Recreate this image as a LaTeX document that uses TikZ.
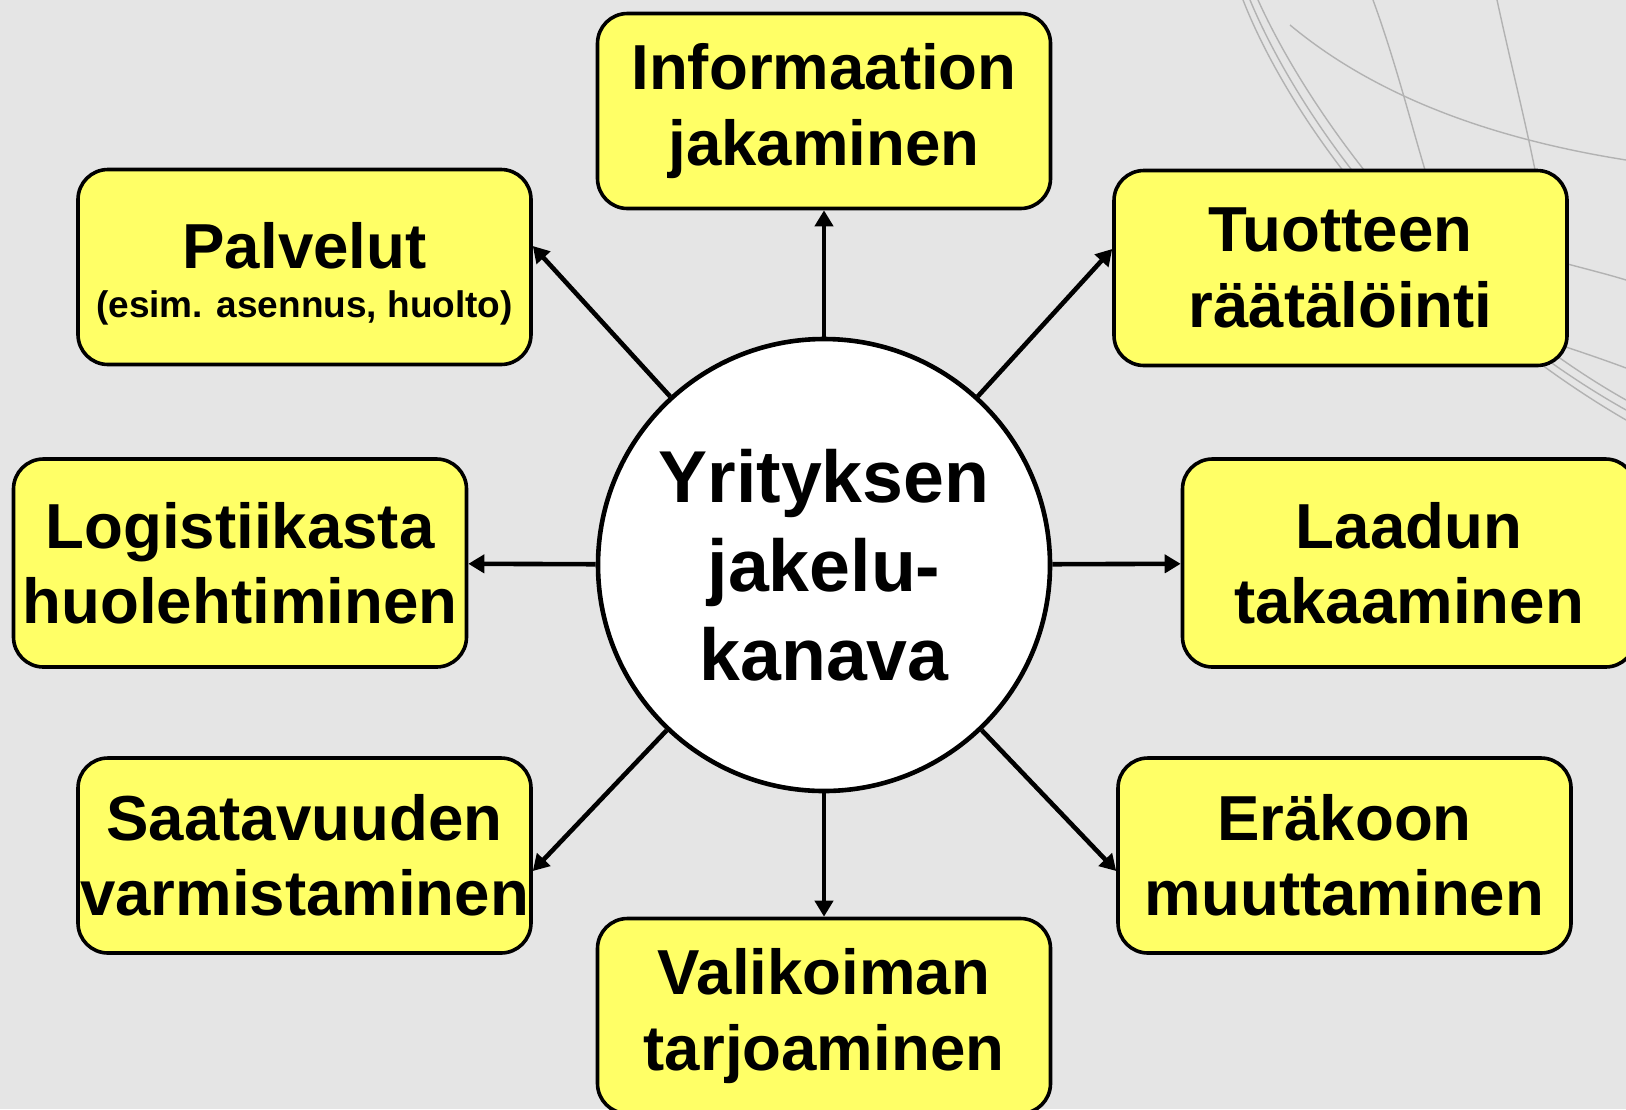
\documentclass[tikz,border=0pt]{standalone}
\usepackage{fontspec}
\setmainfont{Liberation Sans}
\usetikzlibrary{arrows.meta}
\definecolor{bgray}{HTML}{E5E5E5}
\definecolor{boxyellow}{HTML}{FFFF66}
\begin{document}
\begin{tikzpicture}[x=0.5pt,y=-0.5pt,
 box/.style={draw=black, line width=1.8pt, fill=boxyellow, rounded corners=15pt,
   minimum width=226.5pt, minimum height=97.5pt, inner sep=0pt, align=center,
   font=\bfseries\fontsize{31.8pt}{37.6pt}\selectfont},
 hub/.style={circle, draw=black, line width=2.3pt, fill=white, minimum size=226pt,
   inner sep=0pt, align=center, font=\bfseries\fontsize{36.75pt}{44.5pt}\selectfont},
 conn/.style={line width=2.3pt, -{Triangle[length=8pt,width=9pt]}},
 deco/.style={draw=gray!60, line width=0.7pt}]
\useasboundingbox (0,0) rectangle (1626,1109);
\fill[bgray] (0,0) rectangle (1626,1109);
% background globe lines
\draw[deco] (1243,0) .. controls (1290,120) and (1420,300) .. (1626,420);
\draw[deco] (1250,0) .. controls (1300,120) and (1430,300) .. (1626,410);
\draw[deco] (1258,0) .. controls (1310,115) and (1440,295) .. (1626,400);
\draw[deco] (1290,25) .. controls (1380,100) and (1500,140) .. (1626,160);
\draw[deco] (1373,0) .. controls (1395,60) and (1410,120) .. (1425,170);
\draw[deco] (1497,0) .. controls (1510,60) and (1525,120) .. (1535,170);
\draw[deco] (1560,262) .. controls (1590,270) and (1610,275) .. (1626,280);
\draw[deco] (1560,345) .. controls (1590,355) and (1610,362) .. (1626,368);
% nodes
\node[hub] (c) at (824,565) {Yrityksen\\jakelu-\\kanava};
\node[box] (info) at (824,111) {Informaation\\jakaminen};
\node[box] (palv) at (304.5,267) {\rule{0pt}{30pt}Palvelut\\[-13pt]{\fontsize{18.5pt}{22pt}\selectfont (esim. asennus, huolto)}};
\node[box] (tuot) at (1340.5,268) {Tuotteen\\räätälöinti};
\node[box, minimum height=104pt] (logi) at (240,563) {Logistiikasta\\huolehtiminen};
\node[box, minimum height=104pt] (laad) at (1409,563) {Laadun\\takaaminen};
\node[box] (saat) at (304.5,855.5) {Saatavuuden\\varmistaminen};
\node[box] (erak) at (1344.5,855.5) {Eräkoon\\muuttaminen};
\node[box] (vali) at (824,1016) {Valikoiman\\tarjoaminen};
% attachment points
\coordinate (pa) at ([yshift=10.5pt]palv.east);
\coordinate (ta) at ([yshift=9.5pt]tuot.west);
\coordinate (sa) at ([yshift=-7.75pt]saat.east);
\coordinate (ea) at ([yshift=-7.75pt]erak.west);
% connectors
\draw[conn] (c) -- (info);
\draw[conn] (c) -- (vali);
\draw[conn] (c) -- (logi);
\draw[conn] (c) -- (laad);
\draw[conn] (c) -- (pa);
\draw[conn] (c) -- (ta);
\draw[conn] (c) -- (sa);
\draw[conn] (c) -- (ea);
\end{tikzpicture}
\end{document}
